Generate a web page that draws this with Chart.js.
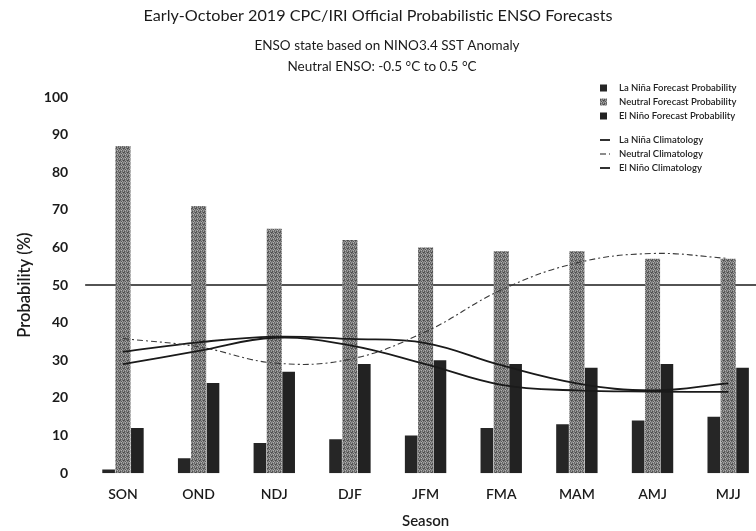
<!DOCTYPE html>
<html>
<head>
<meta charset="utf-8">
<script src="https://cdn.jsdelivr.net/npm/chart.js@4.4.1/dist/chart.umd.min.js"></script>
<style>
  html, body { margin: 0; padding: 0; background: #fff; overflow: hidden; }
  #wrap { width: 770px; height: 531px; }
</style>
</head>
<body>
<div id="wrap"><canvas id="ensoChart" width="770" height="531"></canvas></div>
<script>
// seasons and probabilities
const seasons = ['SON', 'OND', 'NDJ', 'DJF', 'JFM', 'FMA', 'MAM', 'AMJ', 'MJJ'];
const laNinaProb = [1, 4, 8, 9, 10, 12, 13, 14, 15];
const neutralProb = [87, 71, 65, 62, 60, 59, 59, 57, 57];
const elNinoProb = [12, 24, 27, 29, 30, 29, 28, 29, 28];
// climatology curves
const laNinaClim = [29, 32.5, 36, 34, 29, 23.5, 22, 21.7, 21.6];
const neutralClim = [35.8, 33.6, 29.3, 30.3, 37.6, 48.7, 55.9, 58.4, 57.1];
const elNinoClim = [32.3, 34.8, 36.3, 35.7, 34.6, 28.7, 23.9, 22, 23.9];
const refLevel = 50;
const yTicks = [0, 10, 20, 30, 40, 50, 60, 70, 80, 90, 100];

const titleText = 'Early-October 2019 CPC/IRI Official Probabilistic ENSO Forecasts';
const subLines = ['ENSO state based on NINO3.4 SST Anomaly', 'Neutral ENSO: -0.5 °C to 0.5 °C'];

const ctx = document.getElementById('ensoChart');
const c2d = ctx.getContext('2d');

// speckled grey fill for the neutral bars
function stipple() {
  const c = document.createElement('canvas');
  c.width = 4; c.height = 4;
  const g = c.getContext('2d');
  const shades = ['#5c5c5c', '#9a9a9a', '#767676', '#4a4a4a',
                  '#8c8c8c', '#585858', '#a8a8a8', '#6c6c6c',
                  '#7e7e7e', '#b2b2b2', '#626262', '#929292',
                  '#515151', '#868686', '#6a6a6a', '#a0a0a0'];
  shades.forEach((s, i) => { g.fillStyle = s; g.fillRect(i % 4, Math.floor(i / 4), 1, 1); });
  return c2d.createPattern(c, 'repeat');
}
const greyFill = stipple();

const refLinePlugin = {
  id: 'refLine',
  beforeDatasetsDraw(chart) {
    const { ctx, chartArea, scales } = chart;
    const y = scales.y.getPixelForValue(refLevel);
    ctx.save();
    ctx.strokeStyle = '#1a1a1a';
    ctx.lineWidth = 1.5;
    ctx.beginPath();
    ctx.moveTo(chartArea.left, y);
    ctx.lineTo(chartArea.right, y);
    ctx.stroke();
    ctx.restore();
  }
};

// title block (the plot is cropped on the right, so it is not centred on the canvas)
const header = {
  id: 'header',
  afterDraw(chart) {
    const g = chart.ctx;
    g.save();
    g.fillStyle = '#1a1a1a';
    g.textAlign = 'center';
    g.textBaseline = 'middle';
    g.font = '16.2px Lato';
    g.fillText(titleText, 378, 16);
    g.font = '13.5px Lato';
    g.fillText(subLines[0], 387, 46);
    g.fillText(subLines[1], 382, 67);
    g.restore();
  }
};

// legend box at upper right, drawn from the dataset labels
const sideLegend = {
  id: 'sideLegend',
  afterDraw(chart) {
    const g = chart.ctx;
    const rows = [88, 102, 116, 140, 154, 168];
    const order = [2, 3, 4, 0, 1, 5];
    g.save();
    g.font = '600 9.5px Lato';
    g.textBaseline = 'middle';
    order.forEach((di, i) => {
      const ds = chart.data.datasets[di];
      const y = rows[i];
      if (ds.type === 'line') {
        g.strokeStyle = '#1a1a1a';
        g.lineWidth = ds.borderWidth;
        g.setLineDash(ds.borderDash || []);
        g.beginPath();
        g.moveTo(600, y);
        g.lineTo(610, y);
        g.stroke();
        g.setLineDash([]);
      } else {
        g.fillStyle = ds.backgroundColor;
        g.fillRect(600, y - 3.5, 7, 7);
      }
      g.fillStyle = '#222';
      g.fillText(ds.label, 619, y);
    });
    g.restore();
  }
};

new Chart(ctx, {
  type: 'bar',
  data: {
    labels: seasons,
    datasets: [
      { type: 'line', label: 'La Niña Climatology', data: laNinaClim, borderColor: '#1a1a1a',
        borderWidth: 1.8, pointRadius: 0, tension: 0.4, fill: false, order: 0 },
      { type: 'line', label: 'Neutral Climatology', data: neutralClim, borderColor: '#3a3a3a',
        borderWidth: 1.1, borderDash: [6, 3, 2, 3], pointRadius: 0, tension: 0.4, fill: false, order: 0 },
      { label: 'La Niña Forecast Probability', data: laNinaProb, backgroundColor: '#262626',
        barPercentage: 0.88, order: 1 },
      { label: 'Neutral Forecast Probability', data: neutralProb, backgroundColor: greyFill,
        barPercentage: 1.05, order: 1 },
      { label: 'El Niño Forecast Probability', data: elNinoProb, backgroundColor: '#222222',
        barPercentage: 0.88, order: 1 },
      { type: 'line', label: 'El Niño Climatology', data: elNinoClim, borderColor: '#1a1a1a',
        borderWidth: 1.8, pointRadius: 0, tension: 0.4, fill: false, order: 0 }
    ]
  },
  options: {
    responsive: false,
    animation: false,
    layout: { padding: { left: 15, right: 4, top: 97, bottom: 1 } },
    datasets: { bar: { categoryPercentage: 0.57 } },
    plugins: {
      legend: { display: false },
      tooltip: { enabled: false },
      title: { display: false },
      subtitle: { display: false }
    },
    scales: {
      x: {
        grid: { display: false },
        border: { display: false },
        ticks: { color: '#1a1a1a', padding: 5, font: { family: 'Lato', size: 14, weight: '600' } },
        title: { display: true, text: 'Season', color: '#1a1a1a', padding: { top: 4, bottom: 0 },
                 font: { family: 'Lato', size: 15, weight: '600' } }
      },
      y: {
        min: 0,
        max: 100,
        afterBuildTicks(axis) { axis.ticks = yTicks.map(v => ({ value: v })); },
        grid: { display: false },
        border: { display: false },
        ticks: { color: '#1a1a1a', padding: 9, font: { family: 'Lato', size: 14, weight: 'bold' } },
        title: { display: true, text: 'Probability (%)', color: '#1a1a1a', padding: { top: 0, bottom: 0 },
                 font: { family: 'Lato', size: 16.5, weight: '600' } }
      }
    }
  },
  plugins: [refLinePlugin, header, sideLegend]
});
</script>
</body>
</html>
